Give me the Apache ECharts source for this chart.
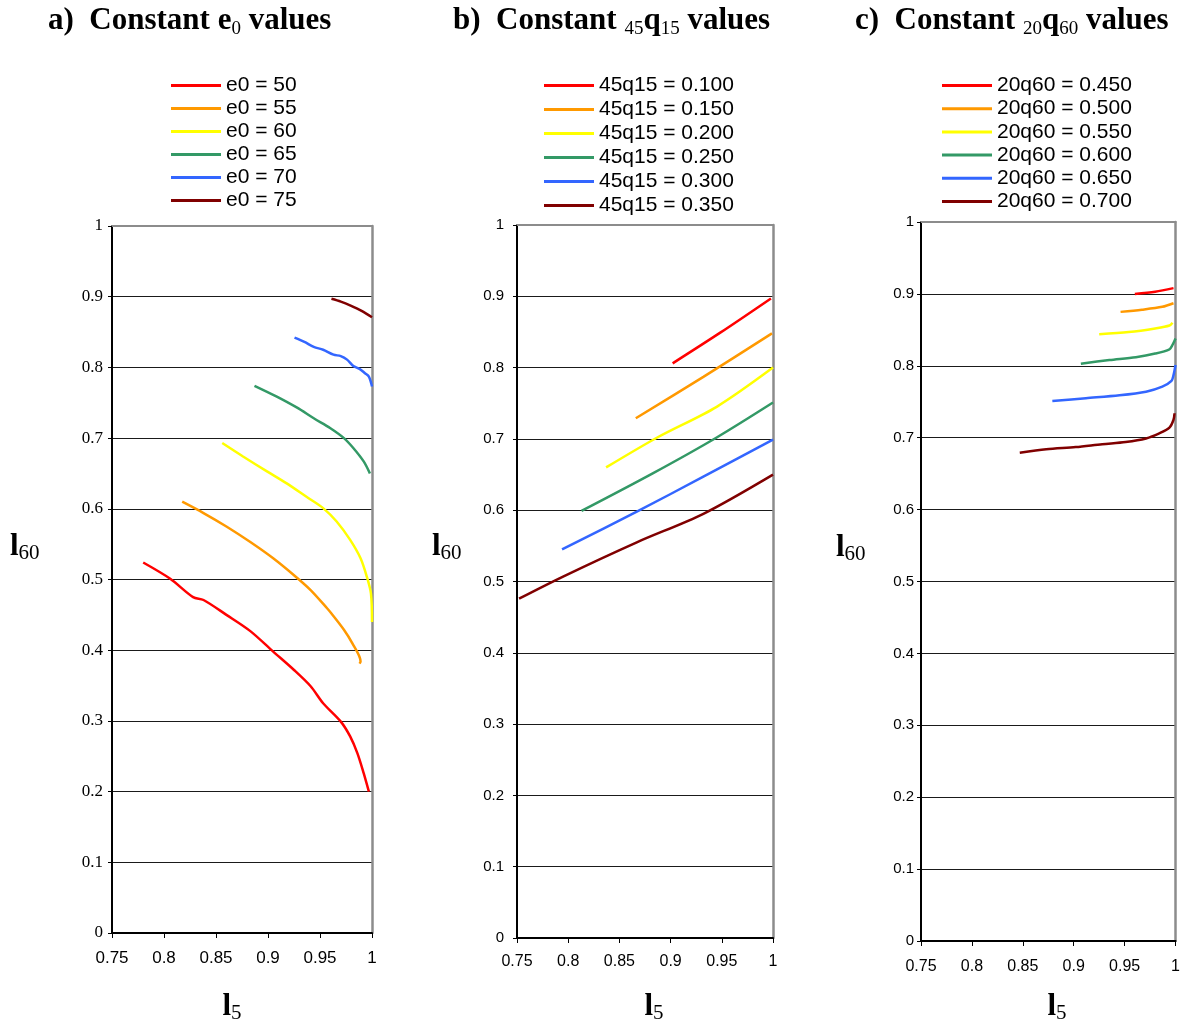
<!DOCTYPE html>
<html>
<head>
<meta charset="utf-8">
<script src="https://cdn.jsdelivr.net/npm/echarts@6/dist/echarts.min.js"></script>
<style>
html,body{margin:0;padding:0;background:#fff;}
#chart{width:1183px;height:1027px;}
</style>
</head>
<body>
<div id="chart"></div>
<script>
// ---------- data ----------
const xTickLabels = ['0.75','0.8','0.85','0.9','0.95','1'];
const yTickLabels = ['0','0.1','0.2','0.3','0.4','0.5','0.6','0.7','0.8','0.9','1'];

// Panel a: constant e0
const namesA = ['e0 = 50','e0 = 55','e0 = 60','e0 = 65','e0 = 70','e0 = 75'];
const e0_50 = [[0.780,0.524],[0.806,0.501],[0.828,0.475],[0.838,0.471],[0.860,0.450],[0.883,0.427],[0.905,0.398],[0.925,0.372],[0.941,0.349],[0.953,0.325],[0.970,0.299],[0.979,0.278],[0.986,0.254],[0.992,0.226],[0.997,0.200]];
const e0_55 = [[0.8175,0.610],[0.838,0.594],[0.860,0.575],[0.883,0.553],[0.905,0.530],[0.925,0.506],[0.941,0.485],[0.957,0.459],[0.961,0.452],[0.973,0.429],[0.981,0.410],[0.989,0.384],[0.988,0.381]];
const e0_60 = [[0.856,0.693],[0.876,0.674],[0.899,0.653],[0.918,0.636],[0.937,0.617],[0.953,0.601],[0.966,0.582],[0.979,0.556],[0.989,0.530],[0.995,0.504],[0.999,0.480],[1.000,0.440]];
const e0_65 = [[0.887,0.774],[0.908,0.759],[0.928,0.743],[0.944,0.728],[0.960,0.714],[0.973,0.700],[0.982,0.686],[0.992,0.667],[0.998,0.650]];
const e0_70 = [[0.9255,0.842],[0.935,0.836],[0.944,0.829],[0.953,0.825],[0.963,0.818],[0.970,0.816],[0.976,0.811],[0.982,0.802],[0.988,0.798],[0.993,0.792],[0.997,0.787],[1.000,0.773]];
const e0_75 = [[0.961,0.897],[0.970,0.893],[0.980,0.887],[0.990,0.880],[1.000,0.871]];

// Panel b: constant 45q15
const namesB = ['45q15 = 0.100','45q15 = 0.150','45q15 = 0.200','45q15 = 0.250','45q15 = 0.300','45q15 = 0.350'];
const q45_100 = [[0.902,0.806],[0.9485,0.849],[0.998,0.897]];
const q45_150 = [[0.866,0.729],[0.932,0.787],[0.999,0.848]];
const q45_200 = [[0.837,0.660],[0.887,0.702],[0.945,0.745],[1.000,0.800]];
const q45_250 = [[0.813,0.599],[0.883,0.652],[0.945,0.702],[1.000,0.751]];
const q45_300 = [[0.794,0.545],[0.867,0.598],[0.932,0.647],[1.000,0.699]];
const q45_350 = [[0.752,0.476],[0.795,0.507],[0.867,0.555],[0.932,0.595],[1.000,0.650]];

// Panel c: constant 20q60
const namesC = ['20q60 = 0.450','20q60 = 0.500','20q60 = 0.550','20q60 = 0.600','20q60 = 0.650','20q60 = 0.700'];
const q20_450 = [[0.960,0.900],[0.980,0.903],[0.998,0.908]];
const q20_500 = [[0.946,0.875],[0.967,0.878],[0.987,0.882],[0.998,0.887]];
const q20_550 = [[0.925,0.844],[0.954,0.847],[0.980,0.852],[0.994,0.856],[0.997,0.860]];
const q20_600 = [[0.907,0.803],[0.935,0.808],[0.961,0.812],[0.980,0.817],[0.994,0.823],[0.997,0.829],[1.000,0.838]];
const q20_650 = [[0.879,0.751],[0.912,0.755],[0.945,0.759],[0.971,0.764],[0.987,0.771],[0.996,0.779],[0.998,0.787],[1.000,0.801]];
const q20_700 = [[0.847,0.679],[0.873,0.684],[0.902,0.687],[0.928,0.691],[0.951,0.694],[0.971,0.699],[0.984,0.706],[0.994,0.714],[0.998,0.725],[0.999,0.734]];

const colors = ['#FF0000','#FF9900','#FFFF00','#339966','#3366FF','#800000'];

// ---------- layout ----------
const grids = [
  {left:112, top:226, width:260, height:707},
  {left:517, top:225, width:256, height:713},
  {left:921, top:222, width:256, height:719}
];
const yLabelFont = ['Liberation Serif','Liberation Sans','Liberation Sans'];
const yLabelSize = [17,15,15];
const yLabelMargin = [9,13,7];
const xLabelSize = [17,16,16];
const xLabelMargin = [17,16,18];

const panels = [
  {names:namesA, data:[e0_50,e0_55,e0_60,e0_65,e0_70,e0_75]},
  {names:namesB, data:[q45_100,q45_150,q45_200,q45_250,q45_300,q45_350]},
  {names:namesC, data:[q20_450,q20_500,q20_550,q20_600,q20_650,q20_700]}
];

const xAxes = [], yAxes = [], series = [];
grids.forEach((g,p)=>{
  xAxes.push({
    type:'value', gridIndex:p, min:0.75, max:1, interval:0.05, position:'bottom',
    axisLine:{show:true, onZero:false, lineStyle:{color:'#000', width:2}},
    axisTick:{show:true, length:5, lineStyle:{color:'#000', width:1}},
    axisLabel:{show:true, margin:xLabelMargin[p], fontFamily:'Liberation Sans', fontSize:xLabelSize[p], color:'#000',
      formatter:(v)=>{ const i=Math.round((v-0.75)/0.05); return xTickLabels[i]; }},
    splitLine:{show:false}
  });
  xAxes.push({
    type:'value', gridIndex:p, min:0.75, max:1, position:'top',
    axisLine:{show:true, onZero:false, lineStyle:{color:'#8c8c8c', width:2}},
    axisTick:{show:false}, axisLabel:{show:false}, splitLine:{show:false}
  });
  yAxes.push({
    type:'value', gridIndex:p, min:0, max:1, interval:0.1, position:'left',
    axisLine:{show:true, onZero:false, lineStyle:{color:'#000', width:2}},
    axisTick:{show:true, length:4, lineStyle:{color:'#000', width:1}},
    axisLabel:{show:true, margin:yLabelMargin[p], fontFamily:yLabelFont[p], fontSize:yLabelSize[p], color:'#000',
      formatter:(v)=>yTickLabels[Math.round(v*10)]},
    splitLine:{show:true, lineStyle:{color:'#1a1a1a', width:1}}
  });
  yAxes.push({
    type:'value', gridIndex:p, min:0, max:1, position:'right',
    axisLine:{show:true, onZero:false, lineStyle:{color:'#8c8c8c', width:2.5}},
    axisTick:{show:false}, axisLabel:{show:false}, splitLine:{show:false}
  });
  panels[p].names.forEach((n,i)=>{
    series.push({
      type:'line', name:n, xAxisIndex:2*p, yAxisIndex:2*p,
      data:panels[p].data[i], showSymbol:false, symbol:'none', smooth:0.3,
      color:colors[i], lineStyle:{color:colors[i], width:2.5}, z:3
    });
  });
});

const titleRich = {
  b:{fontFamily:'Liberation Serif', fontWeight:'bold', fontSize:31, color:'#000', lineHeight:36},
  s:{fontFamily:'Liberation Serif', fontWeight:'normal', fontSize:19, color:'#000', lineHeight:19, verticalAlign:'bottom'}
};
const nameRich = {
  m:{fontFamily:'Liberation Serif', fontWeight:'bold', fontSize:31, color:'#000', lineHeight:34},
  s:{fontFamily:'Liberation Serif', fontWeight:'normal', fontSize:21, color:'#000', lineHeight:21, verticalAlign:'bottom'}
};

const legendBase = {
  orient:'vertical', icon:'rect', itemWidth:50, itemHeight:3, padding:0,
  textStyle:{fontFamily:'Liberation Sans', fontSize:21, lineHeight:23, color:'#000'}
};

const option = {
  backgroundColor:'#fff',
  animation:false,
  title:[
    {left:48, top:3, padding:0, text:'{b|a)  Constant e}{s|0}{b| values}', textStyle:{rich:titleRich}},
    {left:453, top:3, padding:0, text:'{b|b)  Constant }{s|45}{b|q}{s|15}{b| values}', textStyle:{rich:titleRich}},
    {left:855, top:3, padding:0, text:'{b|c)  Constant }{s|20}{b|q}{s|60}{b| values}', textStyle:{rich:titleRich}}
  ],
  legend:[
    Object.assign({}, legendBase, {data:namesA, left:171, top:74, itemGap:0}),
    Object.assign({}, legendBase, {data:namesB, left:544, top:74, itemGap:1}),
    Object.assign({}, legendBase, {data:namesC, left:942, top:74, itemGap:0.2})
  ],
  grid:grids,
  xAxis:xAxes,
  yAxis:yAxes,
  series:series,
  graphic:[
    {type:'text', x:10, y:547, style:{text:'{m|l}{s|60}', rich:nameRich, verticalAlign:'middle', align:'left'}},
    {type:'text', x:432, y:547, style:{text:'{m|l}{s|60}', rich:nameRich, verticalAlign:'middle', align:'left'}},
    {type:'text', x:836, y:548, style:{text:'{m|l}{s|60}', rich:nameRich, verticalAlign:'middle', align:'left'}},
    {type:'text', x:232, y:1007, style:{text:'{m|l}{s|5}', rich:nameRich, verticalAlign:'middle', align:'center'}},
    {type:'text', x:654, y:1007, style:{text:'{m|l}{s|5}', rich:nameRich, verticalAlign:'middle', align:'center'}},
    {type:'text', x:1057, y:1007, style:{text:'{m|l}{s|5}', rich:nameRich, verticalAlign:'middle', align:'center'}}
  ]
};

const chart = echarts.init(document.getElementById('chart'), null, {renderer:'canvas'});
chart.setOption(option);
</script>
</body>
</html>
